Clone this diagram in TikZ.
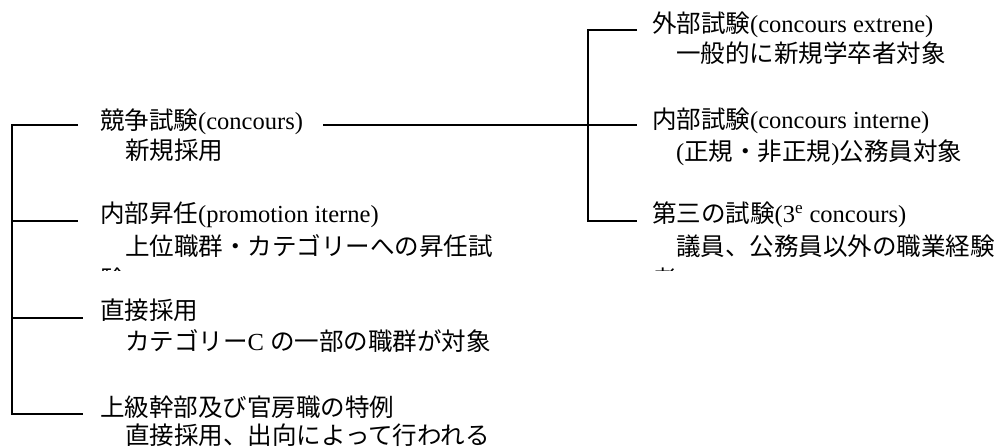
\documentclass[tikz,border=0pt]{standalone}
\usepackage{fontspec}
\setmainfont{Liberation Serif}
\newfontfamily\jpf{Noto Sans CJK JP}
\newcommand\jp[1]{{\jpf #1}}
\begin{document}
\begin{tikzpicture}[x=0.75pt,y=-0.75pt,
  lbl/.style={anchor=base west,inner sep=0pt,outer sep=0pt,font=\fontsize{18.4pt}{22pt}\selectfont},
  conn/.style={line width=1.5pt}]
\useasboundingbox (0,0) rectangle (1005,447);
% left column
\node[lbl] (a1)  at (100,129) {\jp{競争試験}(concours)};
\node[lbl] (a1s) at (125,159) {\jp{新規採用}};
\node[lbl] (a2)  at (100,222) {\jp{内部昇任}(promotion iterne)};
\node[lbl] (a2s) at (125,255) {\jp{上位職群・カテゴリーへの昇任試}};
\node[lbl] (a3)  at (100,319) {\jp{直接採用}};
\node[lbl] (a3s) at (125,350) {\jp{カテゴリー}C \jp{の一部の職群が対象}};
\node[lbl] (a4)  at (100,416) {\jp{上級幹部及び官房職の特例}};
\node[lbl] (a4s) at (125,444) {\jp{直接採用、出向によって行われる}};
% right column
\node[lbl] (b1)  at (652,32)  {\jp{外部試験}(concours extrene)};
\node[lbl] (b1s) at (676,62)  {\jp{一般的に新規学卒者対象}};
\node[lbl] (b2)  at (652,128) {\jp{内部試験}(concours interne)};
\node[lbl] (b2s) at (676,160) {(\jp{正規・非正規})\jp{公務員対象}};
\node[lbl] (b3)  at (652,222) {\jp{第三の試験}(3\textsuperscript{e} concours)};
\node[lbl] (b3s) at (676,255) {\jp{議員、公務員以外の職業経験}};
% clipped wrapped fragments
\begin{scope}
  \clip (90,262) rectangle (1005,270);
  \node[lbl] (a2f) at (100,288) {\jp{験}};
  \node[lbl] (b3f) at (652,288) {\jp{者}};
\end{scope}
% left tree
\coordinate (t1) at (12,125);
\coordinate (t2) at (12,221);
\coordinate (t3) at (12,318);
\coordinate (t4) at (12,414);
\coordinate (e1) at (78,125);
\coordinate (e2) at (78,221);
\coordinate (e3) at (83,318);
\coordinate (e4) at (83,414);
\draw[conn] (e1) -- (t1) -- (t4) -- (e4);
\draw[conn] (t2) -- (e2);
\draw[conn] (t3) -- (e3);
% right tree
\coordinate (m0) at (323,125);
\coordinate (r1) at (588,30);
\coordinate (r3) at (588,221);
\coordinate (f1) at (637,30);
\coordinate (f2) at (637,125);
\coordinate (f3) at (637,221);
\draw[conn] (f1) -- (r1) -- (r3) -- (f3);
\draw[conn] (m0) -- (f2);
\end{tikzpicture}
\end{document}
